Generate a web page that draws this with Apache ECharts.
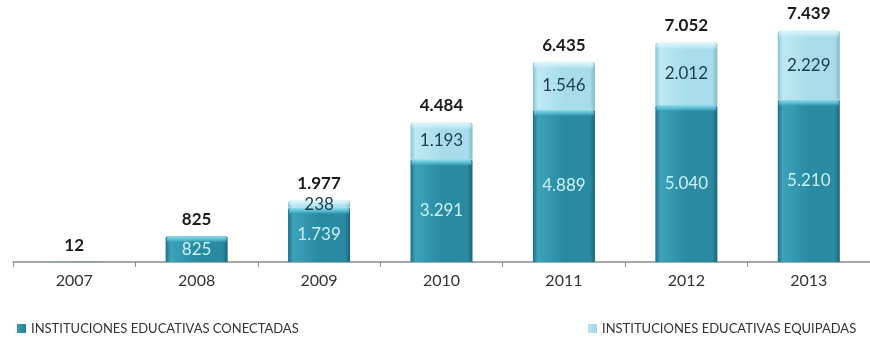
<!DOCTYPE html>
<html>
<head>
<meta charset="utf-8">
<script src="https://cdn.jsdelivr.net/npm/echarts@6/dist/echarts.min.js"></script>
<style>
  html, body { margin: 0; padding: 0; background: #ffffff; }
  #chart { width: 870px; height: 355px; }
</style>
</head>
<body>
<div id="chart"></div>
<script>
// Años y cantidades de instituciones educativas por año
const years = ['2007', '2008', '2009', '2010', '2011', '2012', '2013'];
const conectadas = [12, 825, 1739, 3291, 4889, 5040, 5210];
const equipadas = [0, 0, 238, 1193, 1546, 2012, 2229];
const seriesNames = ['INSTITUCIONES EDUCATIVAS CONECTADAS', 'INSTITUCIONES EDUCATIVAS EQUIPADAS'];

const FONT = 'Lato, "Open Sans", sans-serif';
const BAR_W = 62;

// número con punto como separador de miles
function fmt(n) {
  return String(n).replace(/\B(?=(\d{3})+(?!\d))/g, '.');
}

function hGrad(edgeL, light, mid, edgeR) {
  return new echarts.graphic.LinearGradient(0, 0, 1, 0, [
    { offset: 0, color: edgeL },
    { offset: 0.08, color: light },
    { offset: 0.5, color: mid },
    { offset: 0.92, color: mid },
    { offset: 1, color: edgeR }
  ]);
}

const darkFill = hGrad('#1f6e83', '#3ca3bb', '#2a8aa2', '#1d6478');
const lightFill = hGrad('#86c3d3', '#bfe9f3', '#a8dcea', '#7fb9c9');

const chart = echarts.init(document.getElementById('chart'), null, { renderer: 'canvas' });

const decorData = years.map((y, i) => [i, conectadas[i], equipadas[i]]);

chart.setOption({
  animation: false,
  backgroundColor: '#ffffff',
  grid: { left: 13, right: 0, top: 13, bottom: 93, containLabel: false },
  legend: [
    {
      data: [seriesNames[0]], left: 12, top: 317,
      icon: 'rect', itemWidth: 9, itemHeight: 9, itemGap: 4,
      textStyle: { fontFamily: FONT, fontSize: 13, color: '#333' }
    },
    {
      data: [seriesNames[1]], left: 583, top: 317,
      icon: 'rect', itemWidth: 9, itemHeight: 9, itemGap: 4,
      textStyle: { fontFamily: FONT, fontSize: 13, color: '#333' }
    }
  ],
  xAxis: {
    type: 'category',
    data: years,
    axisLine: { lineStyle: { color: '#8c8c8c', width: 1.5 } },
    axisTick: { show: true, length: 5, lineStyle: { color: '#8c8c8c' } },
    axisLabel: { margin: 11, fontFamily: FONT, fontSize: 16, color: '#333' }
  },
  yAxis: {
    type: 'value', min: 0, max: 8000, show: false,
    splitLine: { show: false }
  },
  series: [
    {
      name: seriesNames[0],
      type: 'bar',
      stack: 'total',
      barWidth: BAR_W,
      data: conectadas,
      itemStyle: { color: darkFill, borderRadius: [2, 2, 0, 0] }
    },
    {
      name: seriesNames[1],
      type: 'bar',
      stack: 'total',
      barWidth: BAR_W,
      data: equipadas,
      itemStyle: { color: lightFill, borderRadius: [3, 3, 0, 0] }
    },
    {
      // relieve superior de cada tramo, valores de los tramos y total encima
      type: 'custom',
      silent: true,
      z: 5,
      data: decorData,
      renderItem: function (params, api) {
        const i = api.value(0);
        const c = api.value(1);
        const e = api.value(2);
        const base = api.coord([i, 0]);
        const pc = api.coord([i, c]);
        const pt = api.coord([i, c + e]);
        const x0 = base[0] - BAR_W / 2;
        const children = [];
        const hDark = base[1] - pc[1];
        if (hDark > 3) {
          children.push({
            type: 'rect',
            shape: { x: x0 + 1, y: pc[1], width: BAR_W - 2, height: Math.min(7, hDark - 1), r: 2 },
            style: {
              fill: new echarts.graphic.LinearGradient(0, 0, 0, 1, [
                { offset: 0, color: 'rgba(150,228,242,0.95)' },
                { offset: 0.6, color: 'rgba(90,190,212,0.7)' },
                { offset: 1, color: 'rgba(42,138,162,0)' }
              ])
            }
          });
        }
        const hLight = pc[1] - pt[1];
        if (hLight > 3) {
          children.push({
            type: 'rect',
            shape: { x: x0 + 1, y: pt[1], width: BAR_W - 2, height: Math.min(8, hLight - 1), r: 3 },
            style: {
              fill: new echarts.graphic.LinearGradient(0, 0, 0, 1, [
                { offset: 0, color: 'rgba(232,250,254,0.95)' },
                { offset: 0.6, color: 'rgba(205,240,248,0.6)' },
                { offset: 1, color: 'rgba(168,220,234,0)' }
              ])
            }
          });
        }
        if (c >= 100) {
          children.push({
            type: 'text',
            style: {
              x: base[0], y: (base[1] + pc[1]) / 2,
              text: fmt(c),
              fontFamily: FONT, fontSize: 17,
              fill: '#c9f1f8', align: 'center', verticalAlign: 'middle'
            }
          });
        }
        if (e > 0) {
          children.push({
            type: 'text',
            style: {
              x: base[0], y: (pc[1] + pt[1]) / 2,
              text: fmt(e),
              fontFamily: FONT, fontSize: 17,
              fill: '#1c3d52', align: 'center', verticalAlign: 'middle'
            }
          });
        }
        children.push({
          type: 'text',
          style: {
            x: base[0], y: pt[1] - 8,
            text: fmt(c + e),
            fontFamily: FONT, fontSize: 17, fontWeight: 'bold',
            fill: '#1a1a1a', align: 'center', verticalAlign: 'bottom'
          }
        });
        return { type: 'group', children: children };
      }
    }
  ]
});
</script>
</body>
</html>
